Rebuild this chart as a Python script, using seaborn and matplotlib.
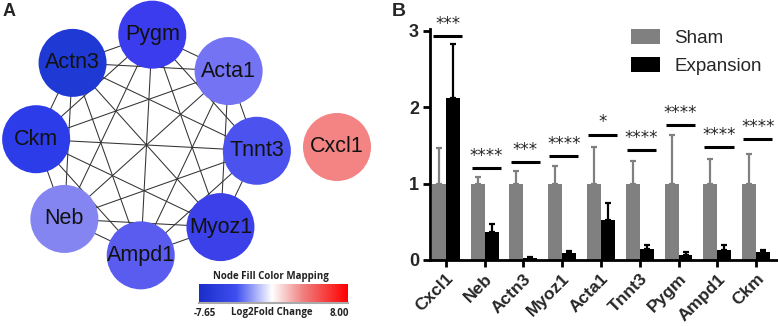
import numpy as np
import matplotlib
matplotlib.use('Agg')
import matplotlib.pyplot as plt
import pandas as pd
import seaborn as sns
from matplotlib.patches import Circle
from matplotlib.colors import LinearSegmentedColormap

# --- data for panel B ---
genes = ['Cxcl1', 'Neb', 'Actn3', 'Myoz1', 'Acta1', 'Tnnt3', 'Pygm', 'Ampd1', 'Ckm']
sham = [1.0, 1.0, 1.0, 1.0, 1.0, 1.0, 1.0, 1.0, 1.0]
sham_err = [0.47, 0.08, 0.16, 0.23, 0.48, 0.29, 0.63, 0.32, 0.39]
expansion = [2.12, 0.37, 0.03, 0.095, 0.525, 0.14, 0.06, 0.125, 0.10]
expansion_err = [0.70, 0.10, 0.005, 0.02, 0.22, 0.05, 0.05, 0.065, 0.03]
sig_height = [2.93, 1.20, 1.28, 1.36, 1.64, 1.44, 1.76, 1.48, 1.58]
sig_stars = ['***', '****', '***', '****', '*', '****', '****', '****', '****']

# --- data for panel A (network) ---
ring_nodes = ['Tnnt3', 'Acta1', 'Pygm', 'Actn3', 'Ckm', 'Neb', 'Ampd1', 'Myoz1']
ring_colors = ['#4b52ee', '#7373f4', '#3a3cee', '#1f3ad4', '#2c3ce8', '#8585f2', '#5a5cf0', '#3b40e8']
lone_node = 'Cxcl1'
lone_color = '#f48484'
fc_min, fc_max = -7.65, 8.00

sns.set_style('white')
plt.rcParams['font.family'] = ['Liberation Sans', 'DejaVu Sans']

fig = plt.figure(figsize=(7.78, 3.26), dpi=100)

# ---------------- Panel A ----------------
axa = fig.add_axes([0, 0, 390 / 778, 1])
axa.set_xlim(0, 390)
axa.set_ylim(326, 0)
axa.axis('off')

cx, cy, rad, node_r = 146.5, 145, 110.5, 34
angles = np.deg2rad(np.arange(len(ring_nodes)) * 45 - 3)
pos = {n: (cx + rad * np.cos(a), cy - rad * np.sin(a)) for n, a in zip(ring_nodes, angles)}
pos[lone_node] = (337, 147)

for i, a in enumerate(ring_nodes):
    for b in ring_nodes[i + 1:]:
        (x1, y1), (x2, y2) = pos[a], pos[b]
        axa.plot([x1, x2], [y1, y2], color='#333333', lw=0.75, zorder=1)

for n, c in zip(ring_nodes + [lone_node], ring_colors + [lone_color]):
    x, y = pos[n]
    axa.add_patch(Circle((x, y), node_r, facecolor=c, edgecolor='none', zorder=2))
    axa.text(x, y, n, ha='center', va='center', fontsize=15.5, color='#111111', zorder=3)

axa.text(3, 12, 'A', fontsize=13, fontweight='bold', va='center', ha='left')

# colour legend
cmap = LinearSegmentedColormap.from_list(
    'fc', [(0, '#1a2ec8'), (0.25, '#3f4ff0'), (0.49, '#ffffff'), (0.7, '#f07f7f'), (1, '#ff0000')])
axc = fig.add_axes([199 / 778, 1 - 303 / 326, 149 / 778, 19 / 326])
axc.imshow(np.linspace(fc_min, fc_max, 256)[None, :], aspect='auto', cmap=cmap,
           extent=[fc_min, fc_max, 0, 1])
axc.set_xticks([])
axc.set_yticks([])
for s in ['top', 'left', 'right']:
    axc.spines[s].set_visible(False)
axc.spines['bottom'].set_color('#aaaaaa')
axc.spines['bottom'].set_linewidth(1.5)

lab_kw = dict(fontsize=7, fontweight='bold', family='Open Sans', color='#222222')
fig.text(271 / 778, 1 - 276 / 326, 'Node Fill Color Mapping', ha='center', va='center', **lab_kw)
fig.text(194 / 778, 1 - 313 / 326, '-7.65', ha='left', va='center', **lab_kw)
fig.text(272 / 778, 1 - 313 / 326, 'Log2Fold Change', ha='center', va='center', **lab_kw)
fig.text(349 / 778, 1 - 313 / 326, '8.00', ha='right', va='center', **lab_kw)

# ---------------- Panel B ----------------
df = pd.DataFrame({
    'gene': genes * 2,
    'group': ['Sham'] * len(genes) + ['Expansion'] * len(genes),
    'value': sham + expansion,
})

axb = fig.add_axes([430 / 778, 1 - 260 / 326, (777 - 430) / 778, (260 - 29) / 326])
sns.barplot(data=df, x='gene', y='value', hue='group', hue_order=['Sham', 'Expansion'],
            palette={'Sham': '#808080', 'Expansion': '#000000'}, errorbar=None,
            width=0.72, saturation=1, linewidth=0, edgecolor='none', ax=axb)

for cont, errs, col in zip(axb.containers, [sham_err, expansion_err], ['#808080', '#000000']):
    for bar, e in zip(cont, errs):
        xb = bar.get_x() + bar.get_width() / 2
        axb.errorbar(xb, bar.get_height(), yerr=[[0], [e]], color=col, lw=1.6,
                     capsize=2.5, capthick=1.6, zorder=1)

for i, (h, s) in enumerate(zip(sig_height, sig_stars)):
    axb.plot([i - 0.33, i + 0.42], [h, h], color='black', lw=2.2, solid_capstyle='butt')
    axb.text(i + 0.05, h + 0.04, s, ha='center', va='bottom', fontsize=12,
             family='DejaVu Sans')

axb.set_xlim(-0.41, 8.54)
axb.set_ylim(0, 3.02)
axb.set_yticks([0, 1, 2, 3])
axb.set_xlabel('')
axb.set_ylabel('')
sns.despine(ax=axb)
for s in ['left', 'bottom']:
    axb.spines[s].set_linewidth(2)
    axb.spines[s].set_color('black')
axb.tick_params(axis='both', which='both', direction='out', length=5, width=2,
                color='black', bottom=True, left=True, pad=3)
axb.tick_params(axis='y', labelsize=13)
axb.tick_params(axis='x', labelsize=12.5)
for lbl in axb.get_yticklabels():
    lbl.set_fontweight('bold')
for lbl in axb.get_xticklabels():
    lbl.set_fontweight('bold')
    lbl.set_rotation(45)
    lbl.set_ha('right')
    lbl.set_rotation_mode('anchor')

axb.legend(loc='upper left', bbox_to_anchor=(631 / 778, 1 - 29 / 326),
           bbox_transform=fig.transFigure, frameon=False, fontsize=13.5,
           handlelength=1.55, handleheight=0.85, handletextpad=0.75, labelspacing=0.55,
           borderpad=0, borderaxespad=0)

fig.text(392 / 778, 1 - 12 / 326, 'B', fontsize=14, fontweight='bold', va='center', ha='left')

fig.savefig('out.png', dpi=100)
